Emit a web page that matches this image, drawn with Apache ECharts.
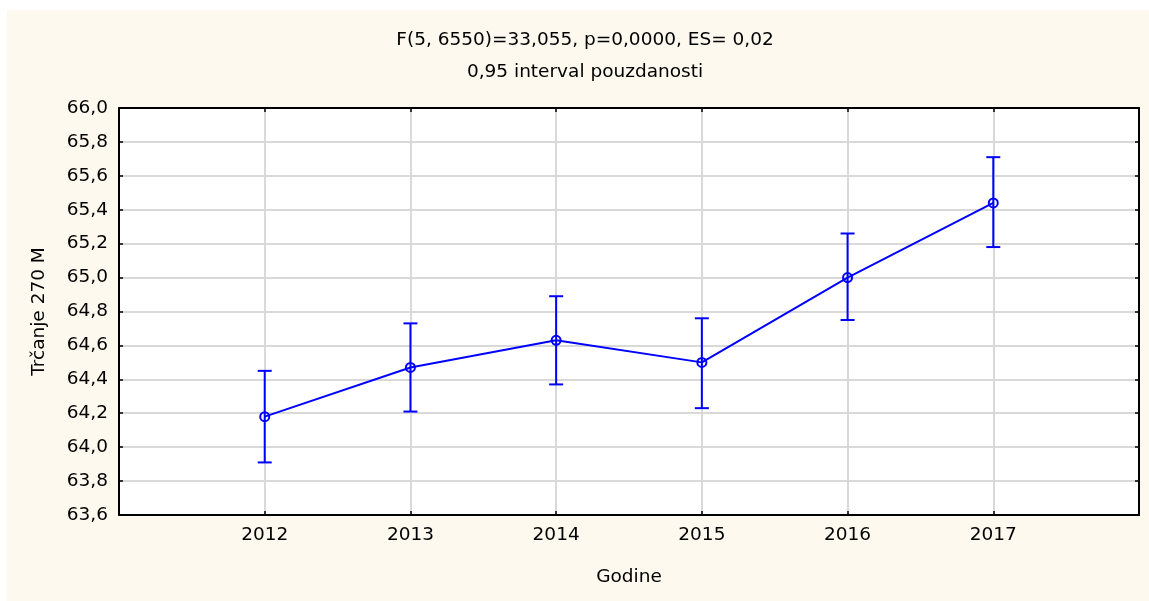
<!DOCTYPE html>
<html>
<head>
<meta charset="utf-8">
<script src="https://cdn.jsdelivr.net/npm/echarts@6/dist/echarts.min.js"></script>
<style>
  html, body { margin: 0; padding: 0; background: #ffffff; }
  #chart { position: absolute; left: 7px; top: 10px; width: 1142px; height: 591px; background: #fdf9ef; }
</style>
</head>
<body>
<div id="chart"></div>
<script>
// godine i srednje vrijednosti (Trčanje 270 M) s 0,95 intervalom pouzdanosti
const years = [2012, 2013, 2014, 2015, 2016, 2017];
const means = [64.18, 64.47, 64.63, 64.50, 65.00, 65.44];
const lower = [63.91, 64.21, 64.37, 64.23, 64.75, 65.18];
const upper = [64.45, 64.73, 64.89, 64.76, 65.26, 65.71];

const titleLines = ['F(5, 6550)=33,055, p=0,0000, ES= 0,02', '0,95 interval pouzdanosti'];
const xName = 'Godine';
const yName = 'Trčanje 270 M';

const FONT = '"DejaVu Sans", "Liberation Sans", Arial, sans-serif';
const FS = 18.5;
const BLUE = '#0000ff';
const fmtY = v => v.toFixed(1).replace('.', ',');

const chart = echarts.init(document.getElementById('chart'));

const frameAxis = {
  axisLine: { show: true, lineStyle: { color: '#000', width: 2 } },
  axisTick: { show: true, inside: true, length: 4, lineStyle: { color: '#000', width: 1.5 } },
  axisLabel: { show: false },
  splitLine: { show: false }
};

chart.setOption({
  animation: false,
  backgroundColor: 'transparent',
  textStyle: { fontFamily: FONT },
  graphic: [
    { type: 'text', x: 578, y: 30, style: { text: titleLines[0], font: FS + 'px ' + FONT, fill: '#000', textAlign: 'center', textVerticalAlign: 'middle' } },
    { type: 'text', x: 578, y: 62, style: { text: titleLines[1], font: FS + 'px ' + FONT, fill: '#000', textAlign: 'center', textVerticalAlign: 'middle' } }
  ],
  grid: { left: 112, top: 98, right: 10, bottom: 86, show: true, backgroundColor: '#ffffff', borderWidth: 0 },
  xAxis: [
    {
      type: 'value', min: 2011, max: 2018, interval: 1,
      name: xName, nameLocation: 'middle', nameGap: 53,
      nameTextStyle: { fontSize: FS, color: '#000', fontFamily: FONT },
      axisLine: { show: true, onZero: false, lineStyle: { color: '#000', width: 2 } },
      axisTick: { show: true, inside: true, length: 4, lineStyle: { color: '#000', width: 1.5 } },
      axisLabel: {
        margin: 11, fontSize: FS, color: '#000', fontFamily: FONT,
        formatter: v => (years.indexOf(v) >= 0 ? String(v) : '')
      },
      splitLine: { show: true, lineStyle: { color: '#d9d9d9', width: 2 } }
    },
    Object.assign({ type: 'value', position: 'top', min: 2011, max: 2018, interval: 1 }, frameAxis)
  ],
  yAxis: [
    {
      type: 'value', min: 63.6, max: 66.0, interval: 0.2,
      name: yName, nameLocation: 'middle', nameGap: 70,
      nameTextStyle: { fontSize: FS, color: '#000', fontFamily: FONT },
      axisLine: { show: true, onZero: false, lineStyle: { color: '#000', width: 2 } },
      axisTick: { show: true, inside: true, length: 4, lineStyle: { color: '#000', width: 1.5 } },
      axisLabel: { margin: 11, fontSize: FS, color: '#000', fontFamily: FONT, formatter: fmtY },
      splitLine: { show: true, lineStyle: { color: '#d9d9d9', width: 2 } }
    },
    Object.assign({ type: 'value', position: 'right', min: 63.6, max: 66.0, interval: 0.2 }, frameAxis)
  ],
  series: [
    {
      type: 'custom',
      data: years.map((y, i) => [y, lower[i], upper[i]]),
      renderItem: function (params, api) {
        const lo = api.coord([api.value(0), api.value(1)]);
        const hi = api.coord([api.value(0), api.value(2)]);
        const w = 7;
        const st = { stroke: BLUE, lineWidth: 2 };
        return {
          type: 'group',
          children: [
            { type: 'line', shape: { x1: lo[0], y1: lo[1], x2: hi[0], y2: hi[1] }, style: st },
            { type: 'line', shape: { x1: hi[0] - w, y1: hi[1], x2: hi[0] + w, y2: hi[1] }, style: st },
            { type: 'line', shape: { x1: lo[0] - w, y1: lo[1], x2: lo[0] + w, y2: lo[1] }, style: st }
          ]
        };
      },
      z: 3
    },
    {
      type: 'line',
      data: years.map((y, i) => [y, means[i]]),
      symbol: 'circle', symbolSize: 9,
      itemStyle: { color: 'rgba(0,0,0,0)', borderColor: BLUE, borderWidth: 2 },
      lineStyle: { color: BLUE, width: 2 },
      z: 4
    }
  ]
});
</script>
</body>
</html>
